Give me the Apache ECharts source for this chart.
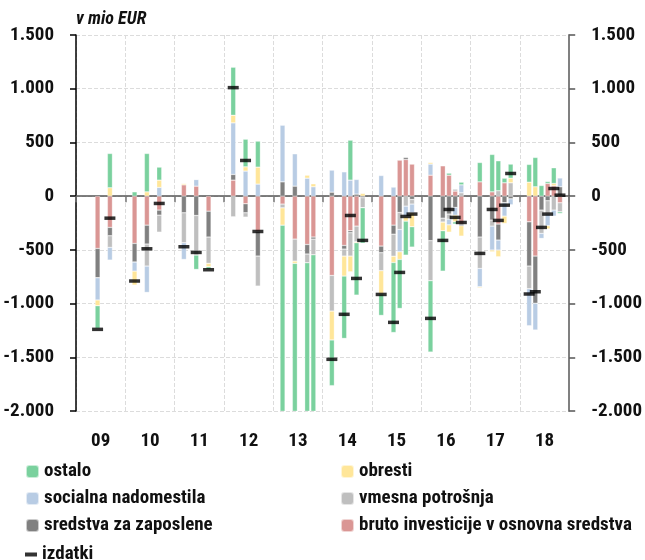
<!DOCTYPE html>
<html>
<head>
<meta charset="utf-8">
<script src="https://cdn.jsdelivr.net/npm/echarts@6/dist/echarts.min.js"></script>
<style>
  html, body { margin: 0; padding: 0; background: #fff; }
  #chart { width: 645px; height: 560px; }
</style>
</head>
<body>
<div id="chart"></div>
<script>
// Time position of each observation, in decimal years
const periods = [
  2009.4375, 2009.6875,
  2010.1875, 2010.4375, 2010.6875,
  2011.1875, 2011.4375, 2011.6875,
  2012.1875, 2012.4375, 2012.6875,
  2013.1875, 2013.4375, 2013.6875, 2013.8125,
  2014.1875, 2014.4375, 2014.5625, 2014.6875, 2014.8125,
  2015.1875, 2015.4375, 2015.5625, 2015.6875, 2015.8125,
  2016.1875, 2016.4375, 2016.5625, 2016.6875, 2016.8125,
  2017.1875, 2017.4375, 2017.5625, 2017.6875, 2017.8125,
  2018.1875, 2018.3125, 2018.4375, 2018.5625, 2018.6875, 2018.8125
];

const yearLabels = ['09', '10', '11', '12', '13', '14', '15', '16', '17', '18'];

// Contributions, v mio EUR
const bruto = [
  -487, -291,
  -440, -270, -130,
  105, 93, -140,
  149, -71, -329,
  -74, -400, -450, -381,
  -738, -459, -322, -279, 0,
  -465, -270, 335, 341, 298,
  195, 282, 195, 47, -260,
  133, 40, -260, 124, 0,
  -239, -558, 0, 118, 96, -62
];
const sredstva = [
  -273, -78,
  -174, -176, -47,
  -155, -180, -241,
  53, -84, -229,
  133, 93, -89, -19,
  37, -34, -19, 19, -15,
  -62, -84, -152, 19, -31,
  -415, -205, -167, -105, -16,
  -381, -223, -149, -62, -25,
  -412, -440, -130, -43, 0, 87
];
const vmesna = [
  0, -108,
  0, -205, -158,
  -279, -369, -245,
  -192, -40, -279,
  -35, -205, -81, -146,
  -332, -65, -217, -146, -93,
  -167, -205, -158, -93, -43,
  -372, -37, -47, 18, 31,
  -292, -56, 50, 0, 124,
  -211, 0, -217, -120, -130, -84
];
const socialna = [
  -207, -118,
  -84, -245, 81,
  -155, 62, 0,
  480, 233, 112,
  527, 301, 167, 87,
  205, 226, 149, 136, 0,
  192, 84, -208, -99, -81,
  103, 0, -53, -72, 74,
  -170, -223, -93, -124, -55,
  -344, -248, -47, -112, -56, 83
];
const obresti = [
  -53, 78,
  -130, 40, 68,
  13, 0, -31,
  71, 40, 158,
  -161, -21, 28, 28,
  -269, -186, -146, -9, 25,
  -217, -59, -71, -41, -130,
  15, -80, -68, -62, -96,
  -10, -16, -62, -68, 43,
  130, 87, 0, -30, 22, 0
];
const ostalo = [
  -211, 319,
  40, 357, 121,
  0, -133, -25,
  447, 257, 242,
  -2600, -2000, -1800, -1900,
  -425, -580, 372, -487, -330,
  -199, -651, -456, -316, -189,
  -664, -376, 19, -21, 25,
  180, 348, 279, 43, 131,
  165, 273, 99, 18, 146, -15
];
const izdatki = [
  -1240, -205,
  -790, -490, -68,
  -471, -524, -685,
  1010, 332, -329,
  -2210, -2232, -2225, -2331,
  -1519, -1100, -180, -766, -412,
  -915, -1175, -710, -189, -167,
  -1138, -412, -124, -198, -245,
  -533, -124, -226, -84, 211,
  -911, -890, -291, -167, 71, 9
];

const FONT = "'Roboto Condensed', 'Liberation Sans Narrow', sans-serif";
const FIRST_YEAR = 2009;
const SLOTS_PER_YEAR = 8;

const components = [
  { name: 'bruto investicije v osnovna sredstva', values: bruto, color: '#DA9694' },
  { name: 'sredstva za zaposlene', values: sredstva, color: '#808080' },
  { name: 'vmesna potrošnja', values: vmesna, color: '#BFBFBF' },
  { name: 'socialna nadomestila', values: socialna, color: '#B8CCE4' },
  { name: 'obresti', values: obresti, color: '#FFE699' },
  { name: 'ostalo', values: ostalo, color: '#7AD19E' }
];

// The time axis is split into eighths of a year; each observation sits in its slot.
const slotCount = yearLabels.length * SLOTS_PER_YEAR;
const slotNames = Array.from({ length: slotCount }, (_, i) =>
  (FIRST_YEAR + Math.floor(i / SLOTS_PER_YEAR)) + '/' + (i % SLOTS_PER_YEAR));

function onSlots(values) {
  const out = new Array(slotCount).fill(null);
  periods.forEach((p, i) => {
    const slot = Math.round((p - FIRST_YEAR) * SLOTS_PER_YEAR - 0.5);
    out[slot] = values[i];
  });
  return out;
}

function thousands(v) {
  const s = String(Math.abs(v)).replace(/\B(?=(\d{3})+(?!\d))/g, '.');
  return (v < 0 ? '-' : '') + s;
}

const yearBoundary = (index) => index % SLOTS_PER_YEAR === 0;

const series = components.map(c => ({
  name: c.name,
  type: 'bar',
  stack: 'izdatki',
  barWidth: 5,
  itemStyle: { color: c.color, borderColor: 'rgba(255,255,255,0.6)', borderWidth: 0.5 },
  data: onSlots(c.values)
}));

series.push({
  name: 'izdatki',
  type: 'scatter',
  symbol: 'rect',
  symbolSize: [11, 3.5],
  itemStyle: { color: '#000' },
  z: 5,
  data: onSlots(izdatki)
});

const labelFont = { fontFamily: FONT, fontSize: 19, fontWeight: 'bold', color: '#111' };

const option = {
  animation: false,
  backgroundColor: '#fff',
  textStyle: { fontFamily: FONT },
  title: {
    text: 'v mio EUR',
    left: 76, top: 10, padding: 0,
    textStyle: { fontFamily: FONT, fontSize: 18, fontStyle: 'italic', fontWeight: 'bold', color: '#111' }
  },
  grid: { left: 76, right: 71, top: 35, bottom: 149, containLabel: false },
  legend: [
    {
      orient: 'vertical', left: 25, top: 462, padding: 0, itemWidth: 13, itemHeight: 13, itemGap: 8,
      textStyle: labelFont,
      data: ['ostalo', 'socialna nadomestila', 'sredstva za zaposlene']
    },
    {
      orient: 'vertical', left: 340, top: 462, padding: 0, itemWidth: 13, itemHeight: 13, itemGap: 8,
      textStyle: labelFont,
      data: ['obresti', 'vmesna potrošnja', 'bruto investicije v osnovna sredstva']
    },
    {
      orient: 'vertical', left: 25, top: 545, padding: 0, itemWidth: 12, itemHeight: 4,
      textStyle: labelFont,
      data: [{ name: 'izdatki', icon: 'rect' }]
    }
  ],
  xAxis: [
    {
      type: 'category', data: slotNames, boundaryGap: true,
      axisLine: { onZero: true, lineStyle: { color: '#555', width: 1.5 } },
      axisTick: { show: true, length: 6, interval: yearBoundary, lineStyle: { color: '#777', width: 1.5 } },
      axisLabel: { show: false },
      splitLine: { show: true, interval: yearBoundary, lineStyle: { color: '#dcdcdc', type: 'dashed', width: 1 } }
    },
    {
      type: 'category', position: 'bottom', data: yearLabels,
      axisLine: { show: false, onZero: false },
      axisTick: { show: false },
      splitLine: { show: false },
      axisLabel: Object.assign({ margin: 21 }, labelFont)
    }
  ],
  yAxis: [
    {
      type: 'value', min: -2000, max: 1500, interval: 500, position: 'left',
      axisLine: { show: true, lineStyle: { color: '#000', width: 1.5 } },
      axisTick: { show: true, length: 6, lineStyle: { color: '#000', width: 1.5 } },
      axisLabel: Object.assign({ margin: 22, formatter: thousands }, labelFont),
      splitLine: { show: true, lineStyle: { color: '#dcdcdc', type: 'dashed', width: 1 } }
    },
    {
      type: 'value', min: -2000, max: 1500, interval: 500, position: 'right',
      axisLine: { show: true, lineStyle: { color: '#808080', width: 2 } },
      axisTick: { show: true, length: 6, lineStyle: { color: '#555', width: 1.5 } },
      axisLabel: Object.assign({ margin: 22, formatter: thousands }, labelFont),
      splitLine: { show: false }
    }
  ],
  series: series
};

function draw() {
  const chart = echarts.init(document.getElementById('chart'), null, { renderer: 'canvas' });
  chart.setOption(option);
}

// Make sure the condensed face is resolved before the canvas measures any text
const faces = ["bold 19px 'Roboto Condensed'", "italic bold 18px 'Roboto Condensed'"];
Promise.all(faces.map(f => document.fonts.load(f).catch(() => null)))
  .then(draw, draw);
</script>
</body>
</html>
